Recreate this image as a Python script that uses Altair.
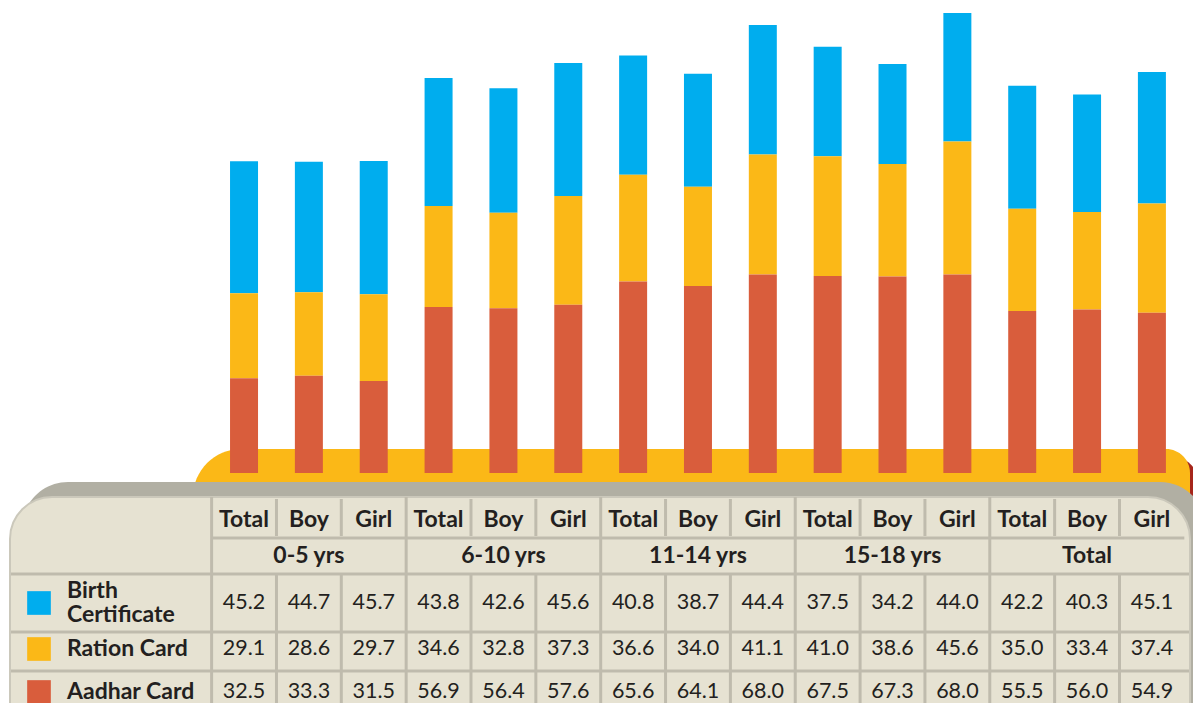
import altair as alt
import pandas as pd

# ---------------- data ----------------
groups = ["0-5 yrs", "6-10 yrs", "11-14 yrs", "15-18 yrs", "Total"]
subgroups = ["Total", "Boy", "Girl"]
series = ["Birth Certificate", "Ration Card", "Aadhar Card"]
series_labels = ["Birth\nCertificate", "Ration Card", "Aadhar Card"]
birth = [45.2, 44.7, 45.7, 43.8, 42.6, 45.6, 40.8, 38.7, 44.4, 37.5, 34.2, 44.0, 42.2, 40.3, 45.1]
ration = [29.1, 28.6, 29.7, 34.6, 32.8, 37.3, 36.6, 34.0, 41.1, 41.0, 38.6, 45.6, 35.0, 33.4, 37.4]
aadhar = [32.5, 33.3, 31.5, 56.9, 56.4, 57.6, 65.6, 64.1, 68.0, 67.5, 67.3, 68.0, 55.5, 56.0, 54.9]
colors = ["#00adee", "#fbb817", "#d95d3c"]

# ---------------- layout ----------------
W, H = 1185, 695
COL0 = 208.3      # page x of first table column
COLW = 65.4       # column width
XMIN = (8 - COL0) / COLW
XMAX = (8 + W - COL0) / COLW
xs = alt.Scale(domain=[XMIN, XMAX], range=[0, W], nice=False, zero=False)


def P(v):
    return v - 8


FONT = "Lato"
TXT = "#231f20"
GRID = "#bfbbad"
ROW_Y = {"hdr": 520, "grp": 556, "Birth Certificate": 603, "Ration Card": 649, "Aadhar Card": 692}
LINE_H = 24
ys_bar = alt.Scale(domain=[0, 465 / 2.919], range=[P(473), 0], nice=False, zero=True)

values = {"Birth Certificate": birth, "Ration Card": ration, "Aadhar Card": aadhar}
n = len(birth)
cols = [(g, s) for g in groups for s in subgroups]

# bars
bar_rows = []
for si, s in enumerate(series):
    for i in range(n):
        bar_rows.append({"xc": i + 0.5, "series": s, "value": values[s][i], "ord": 2 - si})
bars_df = pd.DataFrame(bar_rows)

bars = alt.Chart(bars_df).mark_bar(width=28).encode(
    x=alt.X("xc:Q", scale=xs, axis=None),
    y=alt.Y("value:Q", stack="zero", scale=ys_bar, axis=None),
    color=alt.Color("series:N", scale=alt.Scale(domain=series, range=colors), legend=None),
    order=alt.Order("ord:Q"),
)

one = pd.DataFrame({"a": [0]})


def deco(x1, x2, y1, y2, color, **kw):
    return alt.Chart(one).mark_rect(color=color, **kw).encode(
        x=alt.value(P(x1)), x2=alt.value(P(x2)), y=alt.value(P(y1)), y2=alt.value(P(y2))
    )


red = deco(1120, 1200, 456, 560, "#a6261b", cornerRadiusTopRight=30)
yellow = deco(193, 1190, 449, 560, "#fbb817", cornerRadiusTopLeft=48, cornerRadiusTopRight=24)
gray = deco(22, 1206, 482, 800, "#b1afa3", cornerRadius=46)
beige = deco(10, 1190, 497, 800, "#e6e2d2", cornerRadius=42, stroke="#cbc8bb", strokeWidth=2)

# grid lines
vrows = []
for k in range(15):
    if k % 3 == 0:
        vrows.append({"xb": k, "y1": P(497), "y2": P(760)})
    else:
        vrows.append({"xb": k, "y1": P(499), "y2": P(536)})
        vrows.append({"xb": k, "y1": P(574), "y2": P(760)})
vlines = alt.Chart(pd.DataFrame(vrows)).mark_rule(color=GRID, strokeWidth=3).encode(
    x=alt.X("xb:Q", scale=xs, axis=None),
    y=alt.Y("y1:Q", scale=None),
    y2="y2:Q",
)
hdr_line = alt.Chart(pd.DataFrame({"a": [0], "b": [15]})).mark_rule(color=GRID, strokeWidth=3).encode(
    x=alt.X("a:Q", scale=xs, axis=None), x2="b:Q", y=alt.value(P(538))
)
hlines = [
    alt.Chart(one).mark_rule(color=GRID, strokeWidth=3).encode(
        x=alt.value(P(11)), x2=alt.value(P(1189)), y=alt.value(P(yy))
    )
    for yy in (574, 632, 671)
]

# header text
hdr_df = pd.DataFrame([{"xc": i + 0.5, "t": s, "ypix": P(ROW_Y["hdr"])} for i, (g, s) in enumerate(cols)])
hdr = alt.Chart(hdr_df).mark_text(font=FONT, fontSize=23, fontWeight="bold", color=TXT).encode(
    x=alt.X("xc:Q", scale=xs, axis=None), y=alt.Y("ypix:Q", scale=None), text="t:N"
)
grp_df = pd.DataFrame([{"xc": gi * 3 + 1.5, "t": g, "ypix": P(ROW_Y["grp"])} for gi, g in enumerate(groups)])
grp = alt.Chart(grp_df).mark_text(font=FONT, fontSize=23, fontWeight="bold", color=TXT).encode(
    x=alt.X("xc:Q", scale=xs, axis=None), y=alt.Y("ypix:Q", scale=None), text="t:N"
)

# values
val_rows = []
for s in series:
    for i in range(n):
        val_rows.append({"xc": i + 0.5, "t": f"{values[s][i]:.1f}", "ypix": P(ROW_Y[s])})
vals = alt.Chart(pd.DataFrame(val_rows)).mark_text(font=FONT, fontSize=21.5, color=TXT).encode(
    x=alt.X("xc:Q", scale=xs, axis=None), y=alt.Y("ypix:Q", scale=None), text="t:N"
)

# row labels + swatches
lab_df = pd.DataFrame(
    [
        {
            "series": s,
            "lab": l,
            "ypix": P(ROW_Y[s]),
            "ylab": P(ROW_Y[s] - (l.count("\n") * LINE_H) / 2),
        }
        for s, l in zip(series, series_labels)
    ]
)
labels = alt.Chart(lab_df).mark_text(
    font=FONT, fontSize=23, fontWeight="bold", color=TXT, align="left", lineBreak="\n", lineHeight=LINE_H
).encode(x=alt.value(P(67)), y=alt.Y("ylab:Q", scale=None), text="lab:N")
swatch = alt.Chart(lab_df).mark_square(size=560, shape="M-0.667,-0.5H0.667V0.5H-0.667Z", opacity=1).encode(
    x=alt.value(P(39)),
    y=alt.Y("ypix:Q", scale=None),
    color=alt.Color("series:N", scale=alt.Scale(domain=series, range=colors), legend=None),
)

chart = alt.layer(
    red, yellow, gray, beige, bars, vlines, hdr_line, *hlines, hdr, grp, vals, labels, swatch
).resolve_scale(y="independent", color="independent").properties(
    width=W, height=H, autosize=alt.AutoSizeParams(type="none"), padding=0
).configure_view(stroke=None)

chart.save("out.html", embed_options={"renderer": "svg", "actions": False})
